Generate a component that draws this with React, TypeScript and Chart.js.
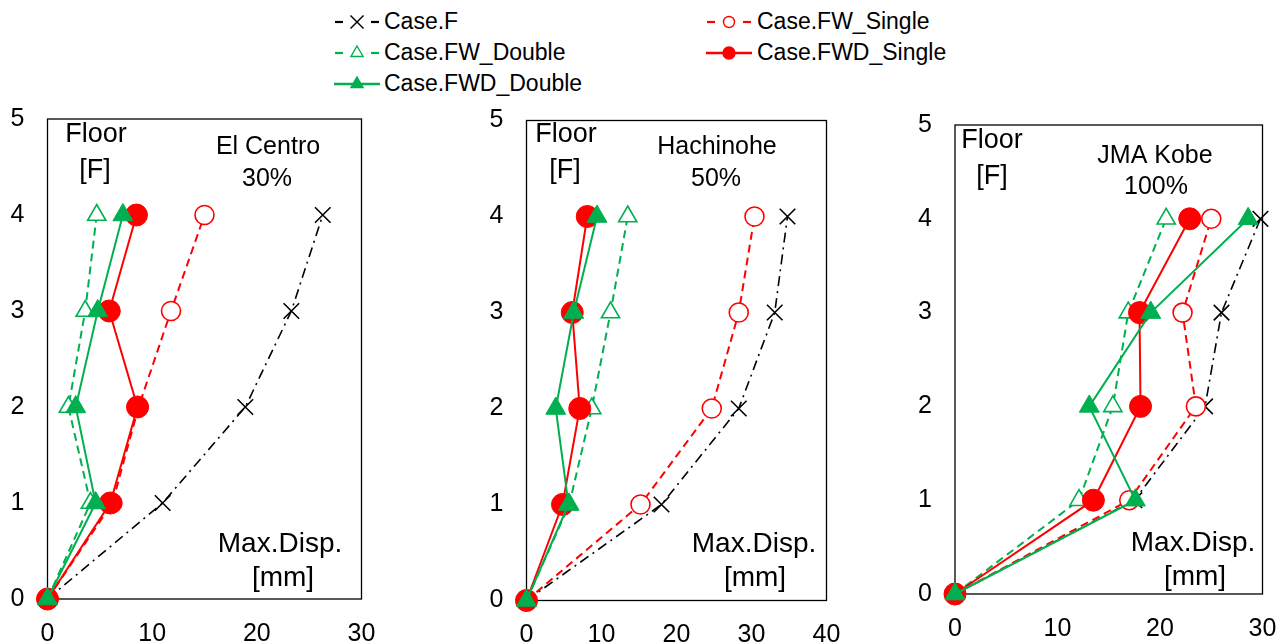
import React, { useEffect, useRef } from 'react';
import { Chart, registerables } from 'chart.js';

Chart.register(...registerables);

// ---------- data ----------
const floors = [0, 1, 2, 3, 4];
const floorTicks = [0, 1, 2, 3, 4, 5];
const seriesNames = ['Case.F', 'Case.FW_Single', 'Case.FW_Double', 'Case.FWD_Single', 'Case.FWD_Double'];

// El Centro 30%  (max displacement [mm] at floor 0..4)
const elCentroF = [0, 11.0, 18.9, 23.3, 26.3];
const elCentroFWSingle = [0, 6.2, 8.7, 11.8, 15.0];
const elCentroFWDouble = [0, 4.1, 2.0, 3.6, 4.7];
const elCentroFWDSingle = [0, 6.0, 8.6, 5.9, 8.5];
const elCentroFWDDouble = [0, 4.6, 2.7, 4.8, 7.2];

// Hachinohe 50%
const hachinoheF = [0, 18.0, 28.3, 33.1, 34.8];
const hachinoheFWSingle = [0, 15.2, 24.7, 28.3, 30.4];
const hachinoheFWDouble = [0, 5.7, 8.7, 11.2, 13.5];
const hachinoheFWDSingle = [0, 4.8, 7.1, 6.1, 8.1];
const hachinoheFWDDouble = [0, 5.6, 3.9, 6.3, 9.4];

// JMA Kobe 100%
const kobeF = [0, 17.5, 24.4, 26.0, 29.8];
const kobeFWSingle = [0, 17.0, 23.5, 22.2, 25.0];
const kobeFWDouble = [0, 12.1, 15.4, 16.9, 20.6];
const kobeFWDSingle = [0, 13.5, 18.1, 18.0, 22.9];
const kobeFWDDouble = [0, 17.6, 13.1, 19.1, 28.6];

const panelTitles = ['El Centro', 'Hachinohe', 'JMA Kobe'];
const panelLevels = ['30%', '50%', '100%'];
const panelXMax = [30, 40, 30];
const xTickStep = 10;

// ---------- styles ----------
const FONT = "'Liberation Sans', Arial, Helvetica, sans-serif";
const RED = '#FF0000';
const GREEN = '#00B050';

const seriesStyles = [
  { color: '#000000', width: 1.6, dash: [10, 5, 2, 5], point: 'crossRot', radius: 11, fill: '#000000', pbw: 1.6, order: 4 },
  { color: RED, width: 2, dash: [8, 5], point: 'circle', radius: 9.5, fill: '#ffffff', pbw: 1.6, order: 3 },
  { color: GREEN, width: 2, dash: [8, 5], point: 'triangle', radius: 10.5, fill: '#ffffff', pbw: 1.6, order: 2 },
  { color: RED, width: 2, dash: [] as number[], point: 'circle', radius: 11, fill: RED, pbw: 1, order: 1 },
  { color: GREEN, width: 2, dash: [] as number[], point: 'triangle', radius: 11.5, fill: GREEN, pbw: 1, order: 0 },
];

type Label = { text: string; x: number; y: number; size: number };
type Panel = {
  left: number; top: number; width: number; height: number;
  area: { left: number; top: number; right: number; bottom: number };
  xMax: number;
  values: number[][];
  labels: Label[];
};

const panels: Panel[] = [
  {
    left: 0, top: 100, width: 400, height: 542,
    area: { left: 47.5, top: 19, right: 361.5, bottom: 499 },
    xMax: panelXMax[0],
    values: [elCentroF, elCentroFWSingle, elCentroFWDouble, elCentroFWDSingle, elCentroFWDDouble],
    labels: [
      { text: 'Floor', x: 96, y: 35, size: 27 },
      { text: '[F]', x: 95, y: 71, size: 27 },
      { text: panelTitles[0], x: 268, y: 47, size: 25 },
      { text: panelLevels[0], x: 267, y: 79, size: 25 },
      { text: 'Max.Disp.', x: 280, y: 444, size: 28 },
      { text: '[mm]', x: 283, y: 478, size: 28 },
    ],
  },
  {
    left: 480, top: 100, width: 400, height: 542,
    area: { left: 46.5, top: 20.5, right: 346.5, bottom: 500.5 },
    xMax: panelXMax[1],
    values: [hachinoheF, hachinoheFWSingle, hachinoheFWDouble, hachinoheFWDSingle, hachinoheFWDDouble],
    labels: [
      { text: 'Floor', x: 86, y: 35, size: 27 },
      { text: '[F]', x: 85, y: 71, size: 27 },
      { text: panelTitles[1], x: 237, y: 47, size: 25 },
      { text: panelLevels[1], x: 236, y: 79, size: 25 },
      { text: 'Max.Disp.', x: 274, y: 444, size: 28 },
      { text: '[mm]', x: 275, y: 478, size: 28 },
    ],
  },
  {
    left: 900, top: 100, width: 384, height: 542,
    area: { left: 55, top: 25, right: 362.5, bottom: 494 },
    xMax: panelXMax[2],
    values: [kobeF, kobeFWSingle, kobeFWDouble, kobeFWDSingle, kobeFWDDouble],
    labels: [
      { text: 'Floor', x: 92, y: 41, size: 27 },
      { text: '[F]', x: 92, y: 77, size: 27 },
      { text: panelTitles[2], x: 255, y: 56, size: 25 },
      { text: panelLevels[2], x: 256, y: 87, size: 25 },
      { text: 'Max.Disp.', x: 293, y: 443, size: 28 },
      { text: '[mm]', x: 295, y: 477, size: 28 },
    ],
  },
];

const boxPlugin = {
  id: 'plotBox',
  beforeDatasetsDraw(chart: any) {
    const { ctx, chartArea } = chart;
    ctx.save();
    ctx.strokeStyle = '#000';
    ctx.lineWidth = 1.3;
    ctx.strokeRect(chartArea.left, chartArea.top, chartArea.right - chartArea.left, chartArea.bottom - chartArea.top);
    ctx.restore();
  },
};

function makeTextPlugin(labels: Label[]) {
  return {
    id: 'panelText',
    afterDatasetsDraw(chart: any) {
      const ctx = chart.ctx;
      ctx.save();
      ctx.fillStyle = '#000';
      ctx.textAlign = 'center';
      ctx.textBaseline = 'middle';
      labels.forEach((l) => {
        ctx.font = `${l.size}px ${FONT}`;
        ctx.fillText(l.text, l.x, l.y);
      });
      ctx.restore();
    },
  };
}

function PanelChart({ panel }: { panel: Panel }) {
  const ref = useRef<HTMLCanvasElement | null>(null);
  useEffect(() => {
    if (!ref.current) return;
    const { area, width, height } = panel;
    const chart = new Chart(ref.current, {
      type: 'scatter',
      data: {
        datasets: seriesNames.map((name, i) => {
          const s = seriesStyles[i];
          return {
            label: name,
            data: floors.map((f, j) => ({ x: panel.values[i][j], y: f })),
            showLine: true,
            clip: false,
            order: s.order,
            borderColor: s.color,
            borderWidth: s.width,
            borderDash: s.dash,
            backgroundColor: s.fill,
            pointStyle: s.point,
            pointRadius: s.radius,
            pointHoverRadius: s.radius,
            pointBorderWidth: s.pbw,
            pointBorderColor: s.color,
            pointBackgroundColor: s.fill,
            tension: 0,
          } as any;
        }),
      },
      options: {
        animation: false,
        responsive: false,
        events: [],
        layout: { padding: { top: area.top, right: width - area.right, left: 0, bottom: 0 } },
        plugins: { legend: { display: false }, tooltip: { enabled: false } },
        scales: {
          x: {
            type: 'linear',
            min: 0,
            max: panel.xMax,
            grid: { display: false, drawTicks: false },
            border: { display: false },
            ticks: { stepSize: xTickStep, padding: 20, color: '#000', font: { family: FONT, size: 25 } },
            afterFit: (s: any) => {
              s.height = height - area.bottom;
              s.paddingLeft = 0; s.paddingRight = 0; s.paddingTop = 0; s.paddingBottom = 0;
            },
          },
          y: {
            type: 'linear',
            min: floorTicks[0],
            max: floorTicks[floorTicks.length - 1],
            grid: { display: false, drawTicks: false },
            border: { display: false },
            ticks: { stepSize: 1, padding: 23, color: '#000', font: { family: FONT, size: 25 } },
            afterFit: (s: any) => {
              s.width = area.left;
              s.paddingLeft = 0; s.paddingRight = 0; s.paddingTop = 0; s.paddingBottom = 0;
            },
          },
        },
      } as any,
      plugins: [boxPlugin, makeTextPlugin(panel.labels)],
    });
    return () => chart.destroy();
  }, [panel]);
  return (
    <canvas
      ref={ref}
      width={panel.width}
      height={panel.height}
      style={{ position: 'absolute', left: panel.left, top: panel.top, width: panel.width, height: panel.height, display: 'block' }}
    />
  );
}

function LegendIcon({ idx }: { idx: number }) {
  const s = seriesStyles[idx];
  const w = 46, h = 22, cx = 23, cy = 11;
  const dashed = s.dash.length > 0;
  const line = dashed ? (
    <g stroke={s.color} strokeWidth={2.2}>
      <line x1={1} y1={cy} x2={9} y2={cy} />
      <line x1={37} y1={cy} x2={45} y2={cy} />
    </g>
  ) : (
    <line x1={0} y1={cy} x2={w} y2={cy} stroke={s.color} strokeWidth={2.5} />
  );
  let marker: any = null;
  if (s.point === 'crossRot') {
    marker = (
      <g stroke={s.color} strokeWidth={1.4}>
        <line x1={cx - 6.5} y1={cy - 6.5} x2={cx + 6.5} y2={cy + 6.5} />
        <line x1={cx - 6.5} y1={cy + 6.5} x2={cx + 6.5} y2={cy - 6.5} />
      </g>
    );
  } else if (s.point === 'circle') {
    marker = <circle cx={cx} cy={cy} r={s.fill === '#ffffff' ? 5.5 : 6} fill={s.fill} stroke={s.color} strokeWidth={1.4} />;
  } else {
    const r = 7;
    const pts = [
      [cx, cy - r],
      [cx + r * 0.866, cy + r * 0.5],
      [cx - r * 0.866, cy + r * 0.5],
    ].map((p) => p.join(',')).join(' ');
    marker = <polygon points={pts} fill={s.fill} stroke={s.color} strokeWidth={1.4} />;
  }
  return (
    <svg width={w} height={h} style={{ position: 'absolute', left: 0, top: -h / 2 }}>
      {line}
      {marker}
    </svg>
  );
}

const legendLayout = [
  { idx: 0, x: 334, y: 22 },
  { idx: 1, x: 706, y: 22 },
  { idx: 2, x: 334, y: 53 },
  { idx: 3, x: 706, y: 53 },
  { idx: 4, x: 334, y: 84 },
];

export default function App() {
  return (
    <div style={{ position: 'fixed', left: 0, top: 0, width: 1284, height: 642, background: '#fff', overflow: 'hidden' }}>
      {legendLayout.map((item) => (
        <div key={item.idx} style={{ position: 'absolute', left: item.x, top: item.y, height: 0 }}>
          <LegendIcon idx={item.idx} />
          <span
            style={{
              position: 'absolute',
              left: item.idx === 1 || item.idx === 3 ? 51 : 50,
              top: -14,
              fontFamily: FONT,
              fontSize: 23,
              lineHeight: '27px',
              whiteSpace: 'nowrap',
              color: '#000',
            }}
          >
            {seriesNames[item.idx]}
          </span>
        </div>
      ))}
      {panels.map((p, i) => (
        <PanelChart key={i} panel={p} />
      ))}
    </div>
  );
}
